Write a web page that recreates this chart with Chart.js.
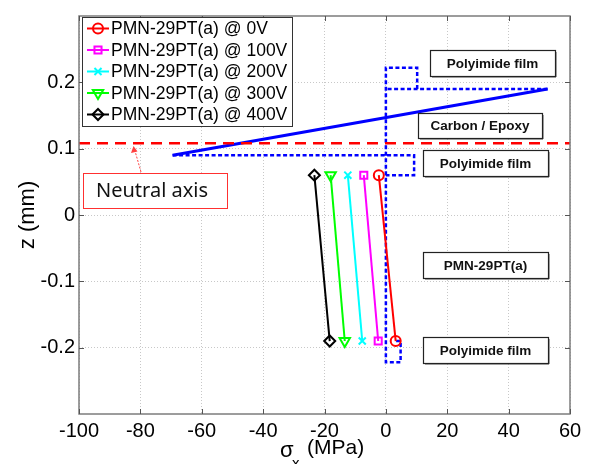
<!DOCTYPE html>
<html>
<head>
<meta charset="utf-8">
<script src="https://cdn.jsdelivr.net/npm/chart.js@4.4.1/dist/chart.umd.min.js"></script>
<style>
    html, body { margin: 0; padding: 0; background: #fff; }
    #wrap { width: 593px; height: 464px; position: relative; }
</style>
</head>
<body>
<div id="wrap"><canvas id="stressChart"></canvas></div>
<script>
// axis ticks
const xTicks = [-100, -80, -60, -40, -20, 0, 20, 40, 60];
const yTicks = [-0.2, -0.1, 0, 0.1, 0.2];

// PMN-29PT(a) layer: stress at top / bottom of the layer for each voltage
const seriesLabels = ['PMN-29PT(a) @ 0V', 'PMN-29PT(a) @ 100V', 'PMN-29PT(a) @ 200V', 'PMN-29PT(a) @ 300V', 'PMN-29PT(a) @ 400V'];
const pmnZ = [0.06, -0.19];
const stress0V = [-2.3, 3.2];
const stress100V = [-7.2, -2.5];
const stress200V = [-12.4, -7.7];
const stress300V = [-18.0, -13.4];
const stress400V = [-23.3, -18.3];

// carbon / epoxy layer (solid blue)
const epoxyStress = [-69.5, 52.7];
const epoxyZ = [0.09, 0.19];

// layer outline (dashed blue), null breaks the line
const outlineStress = [52.7, 0, null, 10.2, 10.2, 0, 0, 4.8, 4.8, 3.2, null, -69.5, 9.2, 9.2, 0];
const outlineZ = [0.19, 0.19, null, 0.19, 0.222, 0.222, -0.222, -0.222, -0.19, -0.19, null, 0.09, 0.09, 0.06, 0.06];

// neutral axis
const neutralStress = [-100, 60];
const neutralZ = [0.108, 0.108];

const FONT = "'Liberation Sans', Arial, sans-serif";

function toPoints(xs, ys) {
    return xs.map((v, i) => ({ x: v, y: ys[i] }));
}

const pmnStyles = [
    { color: '#ff0000', pointStyle: 'circle', rotation: 0, radius: 5 },
    { color: '#ff00ff', pointStyle: 'rect', rotation: 0, radius: 5 },
    { color: '#00ffff', pointStyle: 'crossRot', rotation: 0, radius: 5 },
    { color: '#00ff00', pointStyle: 'triangle', rotation: 180, radius: 6 },
    { color: '#000000', pointStyle: 'rectRot', rotation: 0, radius: 5.5 }
];
const pmnData = [stress0V, stress100V, stress200V, stress300V, stress400V];

const pmnDatasets = pmnData.map((s, i) => ({
    label: seriesLabels[i],
    data: toPoints(s, pmnZ),
    showLine: true,
    borderColor: pmnStyles[i].color,
    backgroundColor: 'rgba(0,0,0,0)',
    borderWidth: 2,
    pointStyle: pmnStyles[i].pointStyle,
    pointRotation: pmnStyles[i].rotation,
    pointRadius: pmnStyles[i].radius,
    pointBorderWidth: 2,
    pointBackgroundColor: 'rgba(0,0,0,0)',
    pointBorderColor: pmnStyles[i].color,
    order: i + 1
}));

// text boxes on the right
const layerBoxes = [
    { text: 'Polyimide film', x: 430, y: 50, w: 125, h: 26 },
    { text: 'Carbon / Epoxy', x: 418, y: 113, w: 124, h: 25 },
    { text: 'Polyimide film', x: 423, y: 150, w: 125, h: 26 },
    { text: 'PMN-29PT(a)', x: 423, y: 252, w: 125, h: 26 },
    { text: 'Polyimide film', x: 423, y: 337, w: 125, h: 26 }
];

const decorations = {
    id: 'decorations',
    afterDraw(chart) {
        const { ctx, chartArea: a, scales: { x, y } } = chart;
        ctx.save();

        // axes box
        ctx.strokeStyle = '#7c7c7c';
        ctx.lineWidth = 1.5;
        ctx.strokeRect(a.left, a.top, a.right - a.left, a.bottom - a.top);

        // inner tick marks
        ctx.lineWidth = 1;
        ctx.strokeStyle = '#555';
        ctx.beginPath();
        xTicks.forEach(v => {
            const px = Math.round(x.getPixelForValue(v)) + 0.5;
            ctx.moveTo(px, a.bottom); ctx.lineTo(px, a.bottom - 5);
            ctx.moveTo(px, a.top); ctx.lineTo(px, a.top + 5);
        });
        yTicks.forEach(v => {
            const py = Math.round(y.getPixelForValue(v)) + 0.5;
            ctx.moveTo(a.left, py); ctx.lineTo(a.left + 5, py);
            ctx.moveTo(a.right, py); ctx.lineTo(a.right - 5, py);
        });
        ctx.stroke();

        // axis titles
        ctx.fillStyle = '#000';
        ctx.textBaseline = 'alphabetic';
        ctx.textAlign = 'left';
        ctx.font = '22px ' + FONT;
        ctx.fillText('\u03c3', 280, 457);
        ctx.font = '15px ' + FONT;
        ctx.fillText('x', 292, 468);
        ctx.font = '21px ' + FONT;
        ctx.fillText('(MPa)', 307, 454);

        ctx.save();
        ctx.translate(34, 215);
        ctx.rotate(-Math.PI / 2);
        ctx.textAlign = 'center';
        ctx.font = '22px ' + FONT;
        ctx.fillText('z (mm)', 0, 0);
        ctx.restore();

        // layer labels
        layerBoxes.forEach(b => {
            ctx.fillStyle = '#fff';
            ctx.fillRect(b.x, b.y, b.w, b.h);
            ctx.strokeStyle = '#555';
            ctx.lineWidth = 1;
            ctx.beginPath();
            ctx.moveTo(b.x + 2, b.y + b.h + 1); ctx.lineTo(b.x + b.w + 1, b.y + b.h + 1); ctx.lineTo(b.x + b.w + 1, b.y + 2);
            ctx.stroke();
            ctx.strokeStyle = '#222';
            ctx.lineWidth = 1.2;
            ctx.strokeRect(b.x + 0.5, b.y + 0.5, b.w, b.h);
            ctx.fillStyle = '#111';
            ctx.font = 'bold 13.5px ' + FONT;
            ctx.textAlign = 'center';
            ctx.textBaseline = 'middle';
            ctx.fillText(b.text, b.x + b.w / 2, b.y + b.h / 2 + 1);
        });

        // neutral axis callout
        ctx.strokeStyle = '#ff4040';
        ctx.lineWidth = 1;
        ctx.setLineDash([2, 1.5]);
        ctx.beginPath();
        ctx.moveTo(141, 172);
        ctx.lineTo(135, 151);
        ctx.stroke();
        ctx.setLineDash([]);
        ctx.fillStyle = '#ff4040';
        ctx.beginPath();
        ctx.moveTo(133.5, 146);
        ctx.lineTo(131, 153);
        ctx.lineTo(137.5, 151.5);
        ctx.closePath();
        ctx.fill();
        ctx.fillStyle = '#fff';
        ctx.fillRect(83, 173, 144, 35);
        ctx.strokeStyle = '#ff3030';
        ctx.lineWidth = 1;
        ctx.strokeRect(83.5, 173.5, 144, 35);
        ctx.fillStyle = '#111';
        ctx.font = "20px 'Noto Sans', sans-serif";
        ctx.textAlign = 'left';
        ctx.textBaseline = 'middle';
        ctx.fillText('Neutral axis', 96, 191);

        // legend
        ctx.fillStyle = '#fff';
        ctx.fillRect(82, 17, 210, 109);
        ctx.strokeStyle = '#333';
        ctx.lineWidth = 1;
        ctx.strokeRect(82.5, 17.5, 210, 109);
        seriesLabels.forEach((lab, i) => {
            const cy = 28.5 + i * 21.5;
            const st = pmnStyles[i];
            ctx.strokeStyle = st.color;
            ctx.lineWidth = 2;
            ctx.beginPath();
            ctx.moveTo(87, cy);
            ctx.lineTo(109, cy);
            ctx.stroke();
            ctx.fillStyle = 'rgba(0,0,0,0)';
            Chart.helpers.drawPoint(ctx, {
                pointStyle: st.pointStyle,
                rotation: st.rotation,
                radius: st.radius,
                borderWidth: 2
            }, 98, cy);
            ctx.fillStyle = '#000';
            ctx.font = '17.5px ' + FONT;
            ctx.textAlign = 'left';
            ctx.textBaseline = 'middle';
            ctx.fillText(lab, 111, cy + 1);
        });

        ctx.restore();
    }
};

const ctx = document.getElementById('stressChart').getContext('2d');
const stressChart = new Chart(ctx, {
    type: 'scatter',
    data: {
        datasets: pmnDatasets.concat([
            {
                label: 'Neutral axis',
                data: toPoints(neutralStress, neutralZ),
                showLine: true,
                borderColor: '#ff0000',
                borderWidth: 2.5,
                borderDash: [11, 7],
                pointRadius: 0,
                order: 6
            },
            {
                label: 'Carbon / Epoxy',
                data: toPoints(epoxyStress, epoxyZ),
                showLine: true,
                borderColor: '#0000ff',
                borderWidth: 3,
                pointRadius: 0,
                order: 7
            },
            {
                label: 'Outline',
                data: toPoints(outlineStress, outlineZ),
                showLine: true,
                spanGaps: false,
                borderColor: '#0000ff',
                borderWidth: 2.5,
                borderDash: [4, 2.5],
                pointRadius: 0,
                order: 8
            }
        ])
    },
    options: {
        responsive: true,
        maintainAspectRatio: false,
        animation: false,
        layout: {
            padding: { left: 0, right: 23, top: 13, bottom: 0 }
        },
        plugins: {
            legend: { display: false },
            tooltip: { enabled: false }
        },
        scales: {
            x: {
                type: 'linear',
                min: -100,
                max: 60,
                afterBuildTicks: scale => { scale.ticks = xTicks.map(v => ({ value: v })); },
                afterFit: scale => { scale.height = 50; },
                grid: { color: '#c8c8c8', lineWidth: 1, drawTicks: false },
                border: { display: false, dash: [1, 2] },
                ticks: {
                    color: '#000',
                    padding: 5,
                    maxRotation: 0,
                    font: { family: FONT, size: 20 },
                    callback: v => String(v)
                }
            },
            y: {
                type: 'linear',
                min: -0.3,
                max: 0.3,
                afterBuildTicks: scale => { scale.ticks = yTicks.map(v => ({ value: v })); },
                afterFit: scale => { scale.width = 79; },
                grid: { color: '#c8c8c8', lineWidth: 1, drawTicks: false },
                border: { display: false, dash: [1, 2] },
                ticks: {
                    color: '#000',
                    padding: 4,
                    font: { family: FONT, size: 20 },
                    callback: v => String(Math.round(v * 10) / 10)
                }
            }
        }
    },
    plugins: [decorations]
});
</script>
</body>
</html>
